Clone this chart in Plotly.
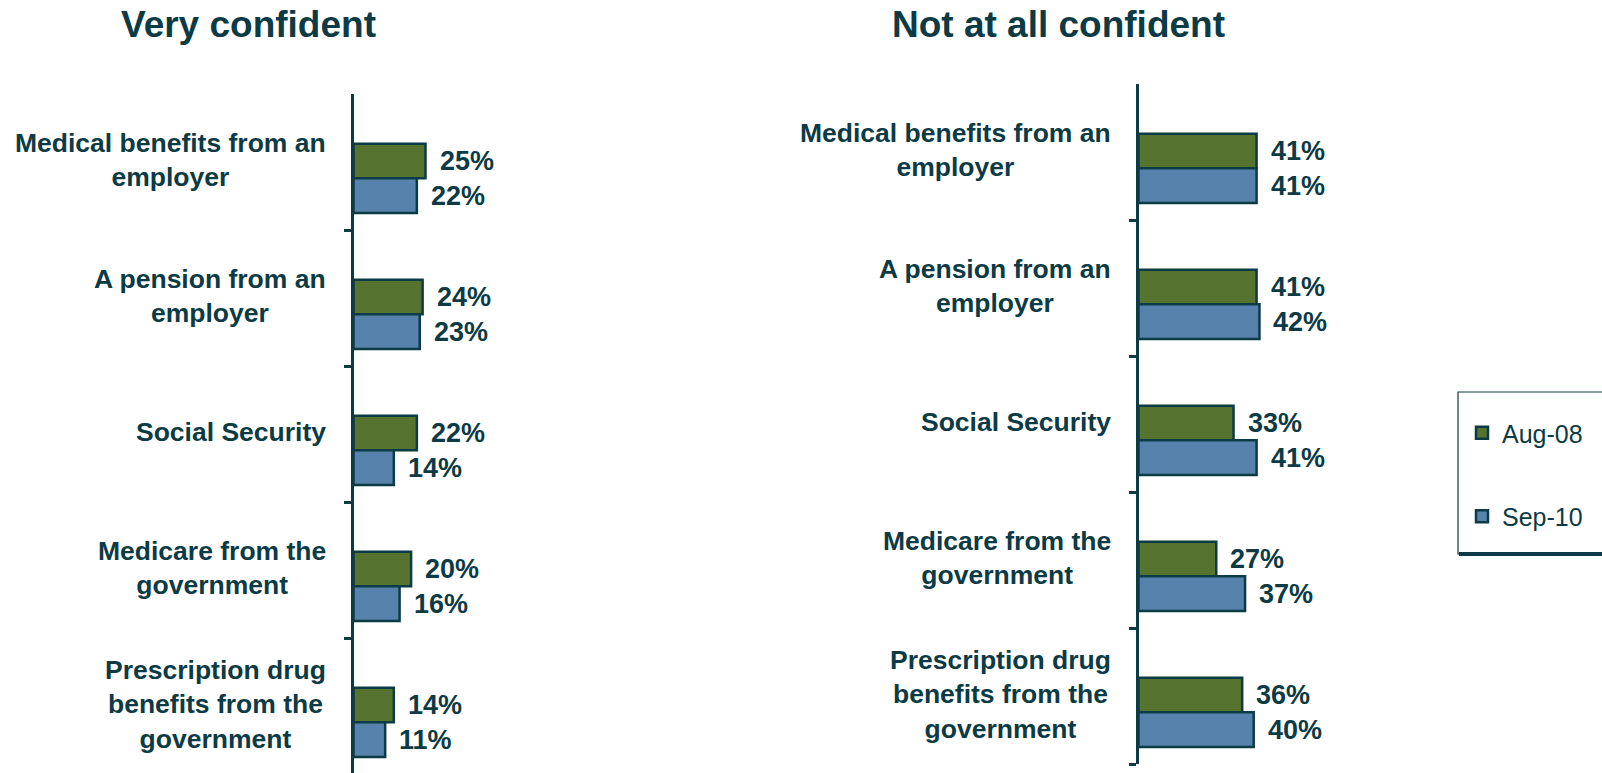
import plotly.graph_objects as go

# Retirement-benefit confidence, two survey waves
categories = [
    "Medical benefits from an<br>employer",
    "A pension from an<br>employer",
    "Social Security",
    "Medicare from the<br>government",
    "Prescription drug<br>benefits from the<br>government",
]
series_names = ["Aug-08", "Sep-10"]
very_confident_aug08 = [25, 24, 22, 20, 14]
very_confident_sep10 = [22, 23, 14, 16, 11]
not_confident_aug08 = [41, 41, 33, 27, 36]
not_confident_sep10 = [41, 42, 41, 37, 40]
panel_titles = ["Very confident", "Not at all confident"]

W, H = 1602, 773
DARK = "#0C3A45"
GREEN = "#56732F"
BLUE = "#5682AC"
FONT = "Liberation Sans, Arial, sans-serif"

PX_PER_PCT = 2.88
X_MAX = 60
BAND_PX = 136.0


def px_x(p):
    return p / W


def px_y(p):
    return 1 - p / H


positions = list(range(len(categories)))
bar_w = 0.255
offsets = [-0.135, 0.12]

fig = go.Figure()

panels = [
    # (x axis left px, y axis top px, y axis bottom px, data)
    (353.5, 94.0, 773.0, [very_confident_aug08, very_confident_sep10], "x", "y"),
    (1138.5, 84.0, 764.0, [not_confident_aug08, not_confident_sep10], "x2", "y2"),
]

annotations = []
for pi, (ax_left, ax_top, ax_bot, data, xr, yr) in enumerate(panels):
    for si, (vals, color) in enumerate(zip(data, [GREEN, BLUE])):
        fig.add_trace(go.Bar(
            x=vals, y=positions, orientation="h",
            width=bar_w, offset=offsets[si],
            marker=dict(color=color, line=dict(color=DARK, width=2.5)),
            name=series_names[si], legendgroup=series_names[si],
            showlegend=(pi == 0), xaxis=xr, yaxis=yr,
            hoverinfo="skip",
        ))
        for i, v in enumerate(vals):
            annotations.append(dict(
                x=v, y=i + offsets[si] + bar_w / 2, xref=xr, yref=yr,
                text=f"<b>{v}%</b>", showarrow=False, xanchor="left", yanchor="middle",
                xshift=12, font=dict(family=FONT, size=27, color=DARK),
            ))
    for i, cat in enumerate(categories):
        annotations.append(dict(
            x=0, y=i, xref=xr, yref=yr, text=f"<b>{cat}</b>", showarrow=False,
            xanchor="right", yanchor="middle", align="center", xshift=-26, yshift=2,
            font=dict(family=FONT, size=26.5, color=DARK),
        ))

# panel titles
for cx, title in zip([248.7, 1058.0], panel_titles):
    annotations.append(dict(
        x=px_x(cx), y=px_y(24.7), xref="paper", yref="paper",
        text=f"<b>{title}</b>", showarrow=False, xanchor="center", yanchor="middle",
        yshift=0, font=dict(family=FONT, size=37, color=DARK),
    ))

axis_common = dict(showgrid=False, zeroline=False)
layout = dict(
    width=W, height=H, margin=dict(l=0, r=0, t=0, b=0),
    paper_bgcolor="white", plot_bgcolor="white",
    barmode="overlay",
    annotations=annotations,
)
for pi, (ax_left, ax_top, ax_bot, data, xr, yr) in enumerate(panels):
    xname = "xaxis" if xr == "x" else "xaxis2"
    yname = "yaxis" if yr == "y" else "yaxis2"
    bot_clip = min(ax_bot, H)
    span_px = bot_clip - ax_top
    layout[xname] = dict(
        domain=[px_x(ax_left), px_x(ax_left + X_MAX * PX_PER_PCT)],
        range=[0, X_MAX], visible=False, anchor=yr, fixedrange=True, **axis_common,
    )
    layout[yname] = dict(
        domain=[px_y(bot_clip), px_y(ax_top)],
        range=[-0.5 + span_px / BAND_PX, -0.5], anchor=xr,
        tickmode="array", tickvals=[0.5, 1.5, 2.5, 3.5, 4.5],
        showticklabels=False, ticks="outside", ticklen=7, tickwidth=2.5,
        tickcolor=DARK, showline=True, linewidth=3, linecolor=DARK,
        **axis_common,
    )

layout["legend"] = dict(
    x=px_x(1462), y=px_y(410), xanchor="left", yanchor="top",
    font=dict(family=FONT, size=25, color=DARK),
    bgcolor="rgba(0,0,0,0)", borderwidth=0,
    traceorder="grouped", tracegroupgap=48, itemwidth=30,
)

# legend frame with a heavier bottom edge
layout["shapes"] = [
    dict(type="rect", xref="paper", yref="paper",
         x0=px_x(1458), x1=px_x(1640), y0=px_y(554), y1=px_y(392),
         line=dict(color=DARK, width=1.2), fillcolor="rgba(0,0,0,0)", layer="below"),
    dict(type="line", xref="paper", yref="paper",
         x0=px_x(1459), x1=px_x(1640), y0=px_y(554), y1=px_y(554),
         line=dict(color=DARK, width=4)),
]

fig.update_layout(**layout)
fig.write_html("out.html")
